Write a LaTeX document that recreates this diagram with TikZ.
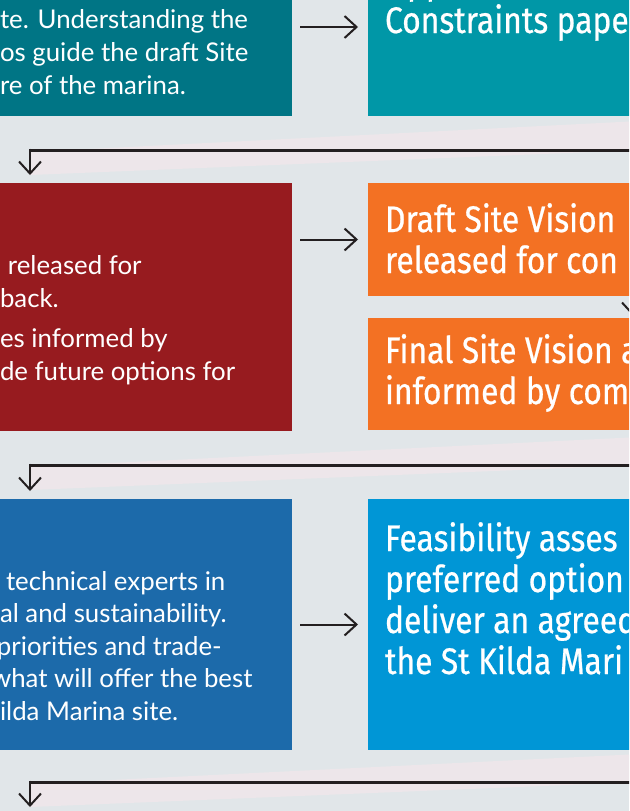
\documentclass[tikz,border=0pt]{standalone}
\usepackage{fontspec}
\usepackage{tikz}
\usetikzlibrary{arrows.meta,positioning,calc}
\newfontfamily\bodyfont{Lato}
\newfontfamily\headfont[FakeStretch=0.86,FakeBold=0.6]{Fira Sans}
\definecolor{pagebg}{HTML}{E1E6E9}
\definecolor{blush}{HTML}{EDE6EA}
\definecolor{ink}{HTML}{231F20}
\definecolor{tealdark}{HTML}{007585}
\definecolor{tealmid}{HTML}{0097A7}
\definecolor{crimson}{HTML}{971B1F}
\definecolor{tangerine}{HTML}{F37123}
\definecolor{cobalt}{HTML}{1C6AAA}
\definecolor{azure}{HTML}{0096D6}

\begin{document}
\begin{tikzpicture}[x=1pt,y=-1pt,>={Straight Barb[length=12pt,width=22pt]},
                    every node/.style={inner sep=0pt,outer sep=0pt}]
  \tikzstyle{box}=[rectangle,draw=none]
  \tikzstyle{leftbox}=[box,minimum width=492pt]
  \tikzstyle{rightbox}=[box,minimum width=461pt]
  % multi-line nodes: base anchor sits on the last line
  \tikzstyle{body}=[text=white,font=\bodyfont\fontsize{25.8}{33}\selectfont,align=left,anchor=base west]
  \tikzstyle{head}=[text=white,font=\headfont\fontsize{37}{41}\selectfont,align=left,anchor=base west]
  \tikzstyle{flow}=[->,draw=ink,line width=2pt]
  \tikzstyle{link}=[draw=ink,line width=3pt]
  \tikzstyle{shade}=[fill=blush]

  \useasboundingbox (0,0) rectangle (629,811);
  \clip (0,0) rectangle (629,811);
  \fill[pagebg] (0,0) rectangle (629,811);

  % faint bands under the return lines
  \fill[shade] (30,152) -- (640,121) -- (640,150) -- (30,175) -- cycle;
  \fill[shade] (30,467) -- (640,437) -- (640,465) -- (30,490) -- cycle;
  \fill[shade] (30,784) -- (640,754) -- (640,782) -- (30,807) -- cycle;

  % boxes
  \node[leftbox,fill=tealdark,minimum height=216pt] (intro) at (46,7.8) {};
  \node[rightbox,fill=tealmid,minimum height=216pt] (paper) at (598.5,7.8) {};
  \node[leftbox,fill=crimson,minimum height=248pt] (vision) at (46,307) {};
  \node[rightbox,fill=tangerine,minimum height=113pt] (draft) at (598.5,239.5) {};
  \node[rightbox,fill=tangerine,minimum height=112pt] (final) at (598.5,374) {};
  \node[leftbox,fill=cobalt,minimum height=251pt] (options) at (46,624.5) {};
  \node[rightbox,fill=azure,minimum height=251pt] (feasible) at (598.5,624.5) {};

  % texts
  \node[body] (introtxt) at (0,94) {te. Understanding the\\os guide the draft Site\\re of the marina.};
  \node[body] (visiontxt) at (0,380) {\hspace*{8pt}released for\\back.\\[7pt]es informed by\\de future options for};
  \node[body,font=\bodyfont\fontsize{25.8}{32.5}\selectfont] (optionstxt) at (0,720)
       {\hspace*{6pt}technical experts in\\al and sustainability.\\\hspace*{-3pt}priorities and trade-\\\hspace*{-9pt}what will offer the best\\ilda Marina site.};
  \node[head] (papertxt) at (385,33) {Opportunities and\\[-2pt]Constraints pape};
  \node[head] (drafttxt) at (385,273) {Draft Site Vision\\released for con};
  \node[head] (finaltxt) at (385,404) {Final Site Vision a\\informed by com};
  \node[head] (feasibletxt) at (385,674)
       {Feasibility asses\\preferred option\\deliver an agreed\\the St Kilda Mari};

  % connectors
  \coordinate (back1) at (640,150);
  \coordinate (turn1) at (30,150);
  \coordinate (back2) at (640,465);
  \coordinate (turn2) at (30,465);
  \coordinate (back3) at (640,782);
  \coordinate (turn3) at (30,782);
  \coordinate (drop3) at (30,807);

  \draw[flow,shorten <=8pt,shorten >=10pt] (intro.east |- 0,27) -- (paper.west |- 0,27);
  \draw[flow,shorten <=8pt,shorten >=10pt] (vision.east |- draft.west) -- (draft.west);
  \draw[flow,shorten <=8pt,shorten >=10pt] (options.east |- feasible.west) -- (feasible.west);
  \draw[flow,shorten >=2pt] (draft.south -| 633,0) -- (final.north -| 633,0);

  \draw[link] (back1) -- (turn1);
  \draw[flow] ([yshift=1.5pt]turn1) -- ([yshift=8pt]vision.north -| turn1);
  \draw[link] (back2) -- (turn2);
  \draw[flow] ([yshift=1.5pt]turn2) -- ([yshift=8pt]options.north -| turn2);
  \draw[link] (back3) -- (turn3);
  \draw[flow] ([yshift=1.5pt]turn3) -- (drop3);
\end{tikzpicture}
\end{document}
